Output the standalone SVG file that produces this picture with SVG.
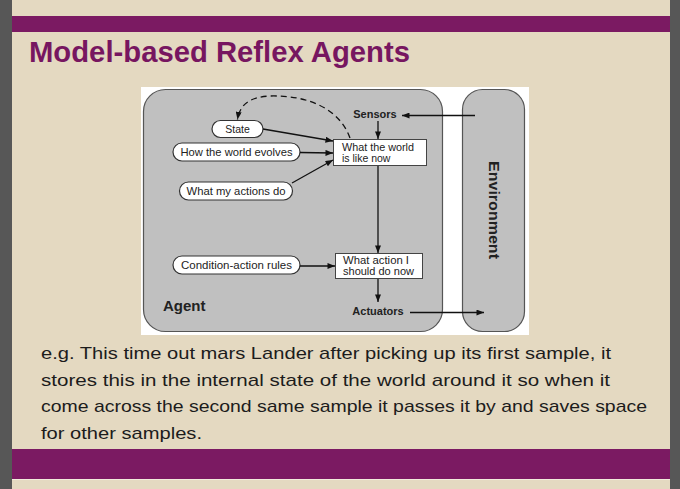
<svg xmlns="http://www.w3.org/2000/svg" width="680" height="489" viewBox="0 0 680 489">
<defs>
<style>
.pill{fill:#fff;stroke:#333;stroke-width:1.2}
.box{fill:#fff;stroke:#444;stroke-width:1}
.lbl{font-family:"Liberation Sans",Arial,sans-serif;font-size:10.5px;fill:#222}
.bold{font-family:"Liberation Sans",Arial,sans-serif;font-weight:bold;fill:#222}
.ln{stroke:#111;stroke-width:1.3;fill:none}
.body{font-family:"Liberation Sans",Arial,sans-serif;font-size:17px;fill:#1c1c1c}
</style>
<marker id="ah" viewBox="0 0 10 8" refX="10" refY="4" markerWidth="8" markerHeight="6" orient="auto" markerUnits="userSpaceOnUse">
<path d="M0,0 L10,4 L0,8 z" fill="#111"/>
</marker>
</defs>
<!-- slide background -->
<rect x="0" y="0" width="680" height="489" fill="#575757"/>
<rect x="12" y="0" width="658" height="489" fill="#e4d9c1"/>
<rect x="12" y="16" width="658" height="16" fill="#7b1a62"/>
<rect x="12" y="449" width="658" height="30" fill="#7b1a62"/>
<line x1="12" y1="479.5" x2="670" y2="479.5" stroke="#f2ecdc" stroke-width="1"/>
<text x="29" y="62" font-family="Liberation Sans,Arial,sans-serif" font-weight="bold" font-size="29" fill="#771660" textLength="381" lengthAdjust="spacingAndGlyphs">Model-based Reflex Agents</text>
<!-- diagram image -->
<rect x="141" y="87" width="388" height="248" fill="#fff"/>
<g id="agent">
<rect x="143.5" y="89.5" width="299" height="242" rx="22" ry="22" fill="#c0c0c0" stroke="#555" stroke-width="1.2"/>
<text class="bold" x="163" y="311" font-size="15">Agent</text>
</g>
<g id="environment">
<rect x="462.5" y="89.5" width="62" height="242" rx="20" ry="20" fill="#c0c0c0" stroke="#555" stroke-width="1.2"/>
<text class="bold" x="0" y="0" font-size="14" text-anchor="middle" transform="translate(489,210) rotate(90)" textLength="98" lengthAdjust="spacingAndGlyphs">Environment</text>
</g>
<g id="sensors"><text class="bold" x="375" y="118" font-size="11" text-anchor="middle">Sensors</text></g>
<g id="actuators"><text class="bold" x="378" y="315" font-size="11" text-anchor="middle">Actuators</text></g>
<g id="state">
<rect class="pill" x="212" y="120.5" width="51" height="17" rx="8.5"/>
<text class="lbl" x="237.5" y="132.5" text-anchor="middle">State</text>
</g>
<g id="how-world-evolves">
<rect class="pill" x="173" y="143" width="127" height="18" rx="9"/>
<text class="lbl" x="236.5" y="156" text-anchor="middle" textLength="112" lengthAdjust="spacingAndGlyphs">How the world evolves</text>
</g>
<g id="what-my-actions-do">
<rect class="pill" x="179.5" y="182" width="113" height="18" rx="9"/>
<text class="lbl" x="236" y="195" text-anchor="middle" textLength="99" lengthAdjust="spacingAndGlyphs">What my actions do</text>
</g>
<g id="condition-action-rules">
<rect class="pill" x="173" y="256" width="127" height="18" rx="9"/>
<text class="lbl" x="236.5" y="269" text-anchor="middle" textLength="111" lengthAdjust="spacingAndGlyphs">Condition-action rules</text>
</g>
<g id="world-now">
<rect class="box" x="333.5" y="139.5" width="93" height="26"/>
<text class="lbl" x="342" y="150.5" textLength="72" lengthAdjust="spacingAndGlyphs">What the world</text>
<text class="lbl" x="342" y="161.5">is like now</text>
</g>
<g id="action-now">
<rect class="box" x="335.5" y="253.5" width="87" height="25"/>
<text class="lbl" x="343" y="264" textLength="66" lengthAdjust="spacingAndGlyphs">What action I</text>
<text class="lbl" x="343" y="275" textLength="71" lengthAdjust="spacingAndGlyphs">should do now</text>
</g>
<g id="connectors">
<line class="ln" x1="475" y1="115.5" x2="402" y2="115.5" marker-end="url(#ah)"/>
<line class="ln" x1="378" y1="121" x2="378" y2="139" marker-end="url(#ah)"/>
<line class="ln" x1="263" y1="129" x2="333" y2="141" marker-end="url(#ah)"/>
<line class="ln" x1="300" y1="152.5" x2="333" y2="153" marker-end="url(#ah)"/>
<line class="ln" x1="292" y1="183" x2="333" y2="160" marker-end="url(#ah)"/>
<path class="ln" d="M350,138 C340,110 310,95 270,96 C250,97 240,104 237.5,119.5" stroke-dasharray="6,4" stroke-width="1.5" marker-end="url(#ah)"/>
<line class="ln" x1="378" y1="166" x2="378" y2="253" marker-end="url(#ah)"/>
<line class="ln" x1="300" y1="266" x2="335" y2="266" marker-end="url(#ah)"/>
<line class="ln" x1="378" y1="279" x2="378" y2="302" marker-end="url(#ah)"/>
<line class="ln" x1="410" y1="312.5" x2="484" y2="312.5" marker-end="url(#ah)"/>
</g>
<!-- body text -->
<text class="body" x="41" y="359" textLength="570" lengthAdjust="spacingAndGlyphs">e.g. This time out mars Lander after picking up its first sample, it</text>
<text class="body" x="41" y="386" textLength="569" lengthAdjust="spacingAndGlyphs">stores this in the internal state of the world around it so when it</text>
<text class="body" x="41" y="412" textLength="606" lengthAdjust="spacingAndGlyphs">come across the second same sample it passes it by and saves space</text>
<text class="body" x="41" y="439" textLength="161" lengthAdjust="spacingAndGlyphs">for other samples.</text>
</svg>
